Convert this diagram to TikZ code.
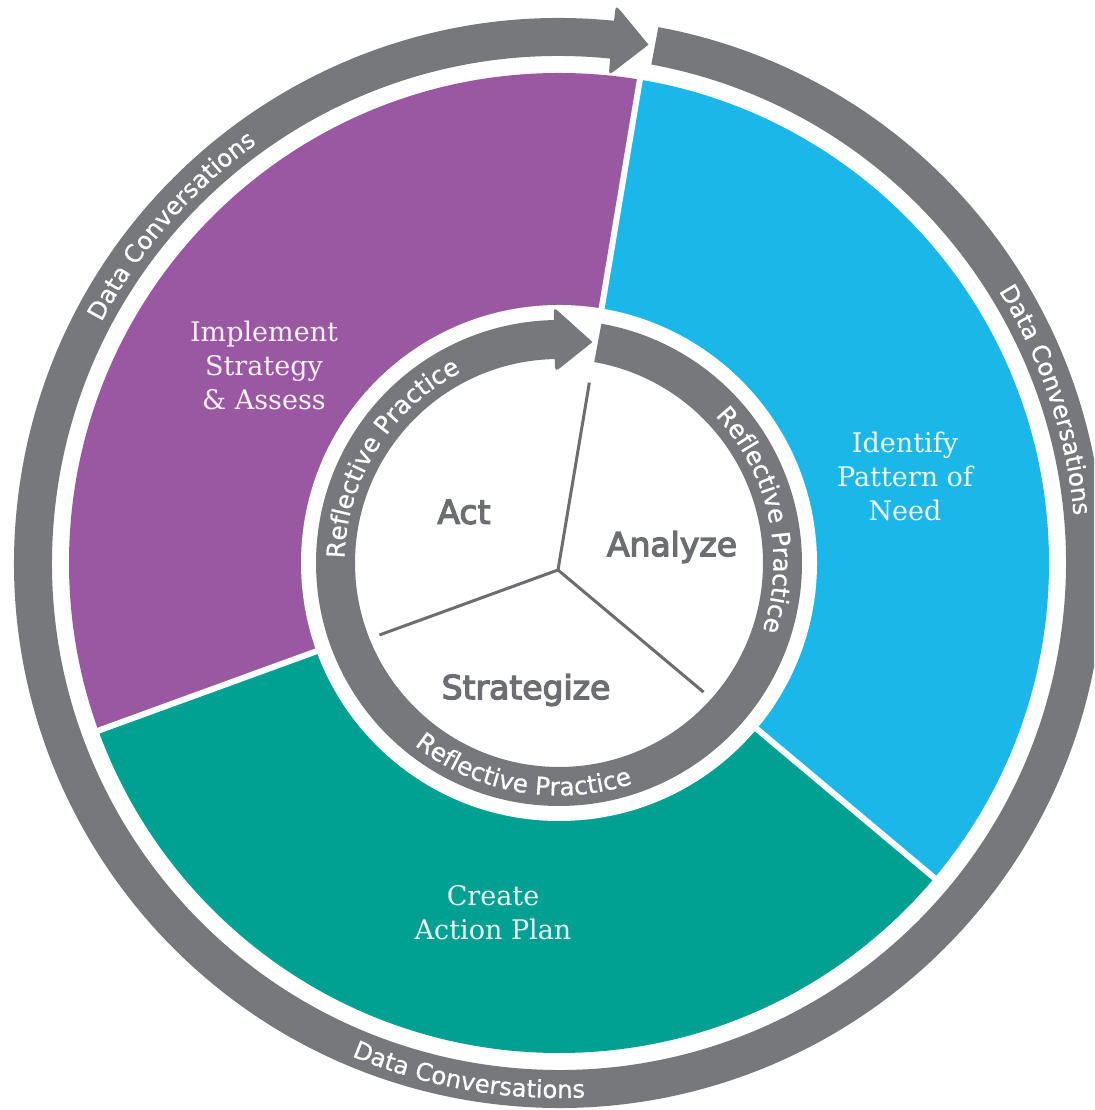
\documentclass[tikz,border=0pt]{standalone}
\usepackage{fontspec}
\setmainfont{DejaVu Serif}
\newfontfamily\ringfont[FakeBold=0.6]{DejaVu Sans}
\newfontfamily\labfont[FakeBold=4]{DejaVu Sans}
\usetikzlibrary{calc,decorations.text}
\definecolor{ringgray}{HTML}{77787B}
\definecolor{segpurple}{HTML}{9A58A2}
\definecolor{segblue}{HTML}{1CB7E9}
\definecolor{segteal}{HTML}{00A192}
\definecolor{labelgray}{HTML}{6D6E71}
\newcommand\ringtext{\ringfont\fontsize{24.3}{24.3}\selectfont}
\newcommand\innertext{\ringfont\fontsize{24.8}{24.8}\selectfont}
\tikzset{
  seglabel/.style={align=center, text=white, text opacity=0.92, font=\fontsize{27}{34}\selectfont},
  innerlabel/.style={text=labelgray, font=\labfont\fontsize{33}{33}\selectfont},
  spoke/.style={labelgray, line width=3},
  divider/.style={white, line width=6},
  ringtxt/.style={decorate, decoration={text along path, text align=center, text color=white, text={|\ringtext|#1}}},
  innertxt/.style={decorate, decoration={text along path, text align=center, text color=white, text={|\innertext|#1}}}
}
\begin{document}
\begin{tikzpicture}[x=1pt,y=1pt]
\useasboundingbox (0,0) rectangle (1094,1110);
\clip (0,0) rectangle (1094,1110);
\coordinate (C) at (559,547);
\coordinate (J) at (558,540);

% coloured segments
\begin{scope}
  \clip (C) circle (490);
  \fill[segpurple] (C) -- ($(C)+(80.5:600)$) arc[start angle=80.5, end angle=200, radius=600] -- cycle;
  \fill[segblue] (C) -- ($(C)+(-40:600)$) arc[start angle=-40, end angle=80.5, radius=600] -- cycle;
  \fill[segteal] (C) -- ($(C)+(200:600)$) arc[start angle=200, end angle=320, radius=600] -- cycle;
\end{scope}
\coordinate (d1) at ($(C)+(80.5:495)$);
\coordinate (d2) at ($(C)+(200:495)$);
\coordinate (d3) at ($(C)+(-40:495)$);
\draw[divider] (C) -- (d1);
\draw[divider] (C) -- (d2);
\draw[divider] (C) -- (d3);
\fill[white] (C) circle (258);

% outer ring with arrow
\draw[ringgray, line width=38] ($(C)+(83.5:526)$) arc[start angle=83.5, end angle=439.5, radius=526];
\coordinate (ot) at ($(C)+(80.2:526)$);
\coordinate (oo) at ($(C)+(84.2:561)$);
\coordinate (oi) at ($(C)+(84.2:490)$);
\fill[ringgray] (ot) -- ($(oo)!12pt!(ot)$) .. controls (oo) .. ($(oo)!12pt!(oi)$)
  -- ($(oi)!12pt!(oo)$) .. controls (oi) .. ($(oi)!12pt!(ot)$) -- cycle;

% inner ring with arrow
\draw[ringgray, line width=39] ($(C)+(90.5:223.5)$) arc[start angle=90.5, end angle=440, radius=223.5];
\coordinate (it) at ($(C)+(81.4:223.5)$);
\coordinate (io) at ($(C)+(91.2:256)$);
\coordinate (ii) at ($(C)+(91.2:191)$);
\fill[ringgray] (it) -- ($(io)!11pt!(it)$) .. controls (io) .. ($(io)!11pt!(ii)$)
  -- ($(ii)!11pt!(io)$) .. controls (ii) .. ($(ii)!11pt!(it)$) -- cycle;

% spokes
\coordinate (s1) at ($(J)+(80.5:190)$);
\coordinate (s2) at ($(J)+(200:190)$);
\coordinate (s3) at ($(J)+(-40:190)$);
\draw[spoke] (J) -- (s1);
\draw[spoke] (J) -- (s2);
\draw[spoke] (J) -- (s3);

% ring texts
\path[ringtxt={Data Conversations}] ($(C)+(169:517)$) arc[start angle=169, end angle=109, radius=517];
\path[ringtxt={Data Conversations}] ($(C)+(48.5:517)$) arc[start angle=48.5, end angle=-11.5, radius=517];
\path[ringtxt={Data Conversations}] ($(C)+(-130:535)$) arc[start angle=-130, end angle=-70, radius=535];
\path[innertxt={Reflective Practice}] ($(C)+(193:214.5)$) arc[start angle=193, end angle=103, radius=214.5];
\path[innertxt={Reflective Practice}] ($(C)+(57.5:214.5)$) arc[start angle=57.5, end angle=-32.5, radius=214.5];
\path[innertxt={Reflective Practice}] ($(C)+(-145:232.5)$) arc[start angle=-145, end angle=-55, radius=232.5];

% labels
\node[seglabel] (impl) at (264,745) {Implement\\Strategy\\\& Assess};
\node[seglabel] (ident) at (905,634) {Identify\\Pattern of\\Need};
\node[seglabel] (create) at (493,197) {Create\\Action Plan};
\node[innerlabel] (act) at (464,598) {Act};
\node[innerlabel] (analyze) at (672,563) {Analyze};
\node[innerlabel] (strat) at (526,420) {Strategize};
\end{tikzpicture}
\end{document}
